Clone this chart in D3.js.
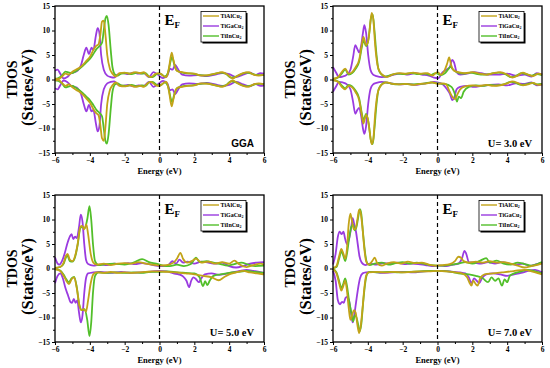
<!DOCTYPE html>
<html>
<head>
<meta charset="utf-8">
<script src="https://cdn.jsdelivr.net/npm/d3@7"></script>
<style>
  body { margin: 0; background: #fff; }
  svg { display: block; }
</style>
</head>
<body>
<div id="chart"></div>
<script>
// compounds and colours
const compounds = ["TiAlCu", "TiGaCu", "TiInCu"];
const colors = ["#c2a318", "#9a3be0", "#52bf2a"];
const panelLabels = ["GGA", "U= 3.0 eV", "U= 5.0 eV", "U= 7.0 eV"];
const xTicks = [-6, -4, -2, 0, 2, 4, 6];
const yTicks = [-15, -10, -5, 0, 5, 10, 15];

// ---- GGA ----
const ggaAlUp = [[-6,0.2],[-5.8,0.1],[-5.6,0.6],[-5.4,1.2],[-5.2,1.0],[-5.0,1.6],[-4.8,2.0],[-4.6,2.4],[-4.4,3.0],[-4.2,3.8],[-4.0,4.6],[-3.8,6.0],[-3.65,6.8],[-3.5,7.2],[-3.4,9],[-3.3,11.8],[-3.2,12.0],[-3.1,9],[-3.0,5],[-2.85,2.2],[-2.7,1.2],[-2.5,0.6],[-2.3,1.3],[-2.0,1.4],[-1.7,1.2],[-1.4,1.5],[-1.1,1.3],[-0.9,1.5],[-0.7,0.8],[-0.5,0.5],[-0.2,1.2],[0,1.3],[0.2,0.8],[0.4,0.5],[0.55,2.5],[0.7,5.5],[0.8,4.0],[0.95,2.0],[1.1,1.6],[1.3,1.5],[1.6,1.3],[2.0,1.2],[2.4,0.8],[2.8,0.9],[3.2,1.2],[3.6,1.5],[3.9,1.0],[4.2,0.2],[4.5,0.8],[4.8,1.3],[5.1,1.5],[5.4,1.0],[5.7,0.8],[6,1.0]];
const ggaGaUp = [[-6,1.8],[-5.85,2.0],[-5.7,1.2],[-5.5,0.2],[-5.3,0.5],[-5.1,1.2],[-4.9,1.5],[-4.7,1.8],[-4.5,3.0],[-4.35,5.0],[-4.2,6.5],[-4.05,5.2],[-3.9,6.5],[-3.8,6.0],[-3.65,9],[-3.55,10.5],[-3.45,9.5],[-3.35,5],[-3.2,2.0],[-3.0,0.8],[-2.8,0.5],[-2.6,0.4],[-2.4,1.0],[-2.1,1.3],[-1.8,1.1],[-1.5,1.4],[-1.2,1.2],[-0.9,1.3],[-0.6,0.5],[-0.35,1.5],[-0.1,1.0],[0.2,0.3],[0.45,0.8],[0.6,2.2],[0.75,2.0],[0.9,3.0],[1.05,2.2],[1.3,1.0],[1.7,0.8],[2.2,0.9],[2.7,0.7],[3.2,1.0],[3.6,1.3],[4.0,1.1],[4.4,0.5],[4.8,1.0],[5.2,1.4],[5.5,0.9],[5.8,1.3],[6,1.2]];
const ggaInUp = [[-6,0.1],[-5.8,0.3],[-5.6,0.8],[-5.4,1.6],[-5.2,1.4],[-5.0,1.3],[-4.8,1.7],[-4.6,2.2],[-4.4,2.8],[-4.2,3.5],[-4.0,4.2],[-3.8,5.2],[-3.6,6.3],[-3.45,6.8],[-3.3,7.5],[-3.2,10],[-3.1,12.5],[-3.02,13],[-2.92,11],[-2.8,6],[-2.7,2.5],[-2.55,1.0],[-2.4,0.8],[-2.2,1.2],[-1.9,1.3],[-1.6,1.1],[-1.3,1.4],[-1.0,1.2],[-0.8,1.3],[-0.6,0.6],[-0.4,0.5],[-0.1,1.2],[0.1,1.1],[0.3,0.6],[0.5,1.5],[0.62,3.5],[0.72,4.6],[0.85,3.0],[1.0,1.8],[1.2,1.5],[1.5,1.3],[1.9,1.2],[2.3,0.9],[2.7,0.8],[3.1,1.1],[3.5,1.4],[3.8,1.2],[4.1,0.4],[4.4,0.6],[4.7,1.1],[5.0,1.4],[5.3,1.2],[5.6,0.9],[6,0.9]];
const ggaAlDn = [[-6,-0.2],[-5.8,-0.1],[-5.6,-0.7],[-5.4,-1.3],[-5.2,-1.0],[-5.0,-1.6],[-4.8,-2.1],[-4.6,-2.5],[-4.4,-3.1],[-4.2,-3.9],[-4.0,-4.7],[-3.8,-6.0],[-3.65,-6.8],[-3.5,-7.3],[-3.4,-9.2],[-3.3,-12.0],[-3.2,-12.5],[-3.1,-9.5],[-3.0,-5],[-2.85,-2.2],[-2.7,-1.2],[-2.5,-0.6],[-2.3,-1.3],[-2.0,-1.4],[-1.7,-1.2],[-1.4,-1.5],[-1.1,-1.3],[-0.9,-1.5],[-0.7,-0.8],[-0.5,-0.5],[-0.2,-1.2],[0,-1.3],[0.2,-0.8],[0.4,-0.5],[0.55,-2.5],[0.7,-5.5],[0.8,-4.0],[0.95,-2.0],[1.1,-1.6],[1.3,-1.5],[1.6,-1.3],[2.0,-1.2],[2.4,-0.8],[2.8,-0.9],[3.2,-1.2],[3.6,-1.5],[3.9,-1.0],[4.2,-0.2],[4.5,-0.8],[4.8,-1.3],[5.1,-1.5],[5.4,-1.0],[5.7,-0.8],[6,-1.0]];
const ggaGaDn = [[-6,-1.8],[-5.85,-2.0],[-5.7,-1.2],[-5.5,-0.2],[-5.3,-0.5],[-5.1,-1.2],[-4.9,-1.5],[-4.7,-1.8],[-4.5,-3.0],[-4.35,-5.0],[-4.2,-6.5],[-4.05,-5.2],[-3.9,-6.5],[-3.8,-6.2],[-3.65,-9],[-3.55,-10.6],[-3.45,-9.5],[-3.35,-5],[-3.2,-2.0],[-3.0,-0.8],[-2.8,-0.5],[-2.6,-0.4],[-2.4,-1.0],[-2.1,-1.3],[-1.8,-1.1],[-1.5,-1.4],[-1.2,-1.2],[-0.9,-1.3],[-0.6,-0.5],[-0.35,-1.5],[-0.1,-1.0],[0.2,-0.3],[0.45,-0.8],[0.6,-2.2],[0.75,-2.0],[0.9,-3.0],[1.05,-2.2],[1.3,-1.0],[1.7,-0.8],[2.2,-0.9],[2.7,-0.7],[3.2,-1.0],[3.6,-1.3],[4.0,-1.1],[4.4,-0.5],[4.8,-1.0],[5.2,-1.4],[5.5,-0.9],[5.8,-1.3],[6,-1.2]];
const ggaInDn = [[-6,-0.1],[-5.8,-0.3],[-5.6,-0.8],[-5.4,-1.6],[-5.2,-1.4],[-5.0,-1.3],[-4.8,-1.7],[-4.6,-2.2],[-4.4,-2.8],[-4.2,-3.5],[-4.0,-4.2],[-3.8,-5.2],[-3.6,-6.3],[-3.45,-6.8],[-3.3,-7.5],[-3.2,-10],[-3.1,-12.6],[-3.02,-13.1],[-2.92,-11],[-2.8,-6],[-2.7,-2.5],[-2.55,-1.0],[-2.4,-0.8],[-2.2,-1.2],[-1.9,-1.3],[-1.6,-1.1],[-1.3,-1.4],[-1.0,-1.2],[-0.8,-1.3],[-0.6,-0.6],[-0.4,-0.5],[-0.1,-1.2],[0.1,-1.1],[0.3,-0.6],[0.5,-1.5],[0.62,-3.5],[0.72,-4.6],[0.85,-3.0],[1.0,-1.8],[1.2,-1.5],[1.5,-1.3],[1.9,-1.2],[2.3,-0.9],[2.7,-0.8],[3.1,-1.1],[3.5,-1.4],[3.8,-1.2],[4.1,-0.4],[4.4,-0.6],[4.7,-1.1],[5.0,-1.4],[5.3,-1.2],[5.6,-0.9],[6,-0.9]];

// ---- U = 3.0 eV ----
const u3AlUp = [[-6,0.1],[-5.7,0.5],[-5.5,1.5],[-5.3,2.2],[-5.1,1.2],[-4.9,1.5],[-4.7,2.5],[-4.5,4.0],[-4.35,7.0],[-4.25,8.7],[-4.1,7.0],[-4.0,7.5],[-3.9,10],[-3.78,13.6],[-3.68,12],[-3.58,7],[-3.45,3],[-3.3,1.5],[-3.1,0.8],[-2.9,0.5],[-2.6,1.0],[-2.2,1.3],[-1.8,1.2],[-1.4,1.4],[-1.0,1.2],[-0.6,1.3],[-0.3,0.8],[0,1.5],[0.2,1.0],[0.4,1.8],[0.55,3.2],[0.67,4.5],[0.78,3.0],[0.95,1.8],[1.2,1.5],[1.6,1.3],[2.0,1.5],[2.4,1.2],[2.8,1.0],[3.2,1.3],[3.6,1.5],[4.0,1.0],[4.3,0.4],[4.6,0.8],[4.9,1.4],[5.2,1.0],[5.5,0.7],[5.8,1.2],[6,1.0]];
const u3GaUp = [[-6,2.5],[-5.85,1.6],[-5.65,0.5],[-5.45,0.6],[-5.2,1.0],[-5.0,2.0],[-4.85,4.5],[-4.72,7.0],[-4.6,6.2],[-4.5,5.5],[-4.38,7.0],[-4.28,9.5],[-4.2,11.1],[-4.1,9.5],[-3.98,5],[-3.85,2],[-3.7,1.0],[-3.5,0.7],[-3.2,0.5],[-2.8,0.7],[-2.5,1.0],[-2.1,1.2],[-1.7,1.0],[-1.3,1.3],[-0.9,1.0],[-0.5,0.8],[-0.2,0.4],[0.05,0.3],[0.3,1.5],[0.5,2.0],[0.7,2.5],[0.85,4.0],[0.95,3.5],[1.1,1.5],[1.3,1.0],[1.7,1.2],[2.1,1.5],[2.5,1.3],[3.0,1.0],[3.5,1.0],[4.0,1.2],[4.5,0.8],[5.0,1.0],[5.4,0.6],[5.7,1.3],[6,1.0]];
const u3InUp = [[-6,0.1],[-5.7,0.4],[-5.5,1.2],[-5.3,2.0],[-5.1,1.0],[-4.9,1.3],[-4.7,2.2],[-4.5,3.6],[-4.35,6.5],[-4.25,8.0],[-4.1,6.8],[-3.95,8.5],[-3.82,12.5],[-3.72,13.3],[-3.62,10],[-3.5,5],[-3.38,2],[-3.2,1.0],[-3.0,0.6],[-2.7,0.9],[-2.3,1.2],[-1.9,1.1],[-1.5,1.3],[-1.1,1.1],[-0.7,1.2],[-0.4,0.9],[-0.1,1.3],[0.2,0.9],[0.4,1.2],[0.6,2.0],[0.75,2.6],[0.9,2.0],[1.1,1.5],[1.5,1.2],[1.9,1.4],[2.3,1.1],[2.7,1.0],[3.1,1.2],[3.5,1.4],[3.9,1.1],[4.2,0.5],[4.5,0.7],[4.8,1.3],[5.1,1.1],[5.4,0.8],[5.7,1.1],[6,0.9]];
const u3AlDn = [[-6,-0.1],[-5.7,-0.5],[-5.5,-1.5],[-5.3,-2.0],[-5.1,-1.3],[-4.9,-1.6],[-4.7,-2.6],[-4.5,-4.2],[-4.35,-7.2],[-4.25,-9.0],[-4.1,-7.2],[-4.0,-8.0],[-3.9,-10.5],[-3.78,-13.2],[-3.68,-12],[-3.58,-7],[-3.45,-3],[-3.3,-1.5],[-3.1,-0.8],[-2.9,-0.6],[-2.6,-0.9],[-2.2,-1.0],[-1.8,-0.9],[-1.4,-1.1],[-1.0,-0.9],[-0.6,-0.8],[-0.3,-0.6],[0,-0.9],[0.3,-0.8],[0.5,-1.0],[0.7,-2.5],[0.85,-3.5],[1.0,-4.0],[1.15,-3.0],[1.3,-2.0],[1.6,-1.4],[2.0,-1.2],[2.4,-1.3],[2.8,-1.1],[3.2,-1.3],[3.6,-1.2],[4.0,-0.8],[4.3,-0.4],[4.6,-0.7],[4.9,-1.2],[5.2,-1.0],[5.5,-0.7],[5.8,-1.1],[6,-1.0]];
const u3GaDn = [[-6,-2.5],[-5.85,-1.6],[-5.65,-0.5],[-5.45,-0.6],[-5.2,-1.0],[-5.0,-2.0],[-4.85,-4.5],[-4.72,-7.0],[-4.6,-6.2],[-4.5,-5.8],[-4.38,-7.5],[-4.28,-10],[-4.2,-11.1],[-4.1,-9.5],[-3.98,-5],[-3.85,-2],[-3.7,-1.0],[-3.5,-0.7],[-3.2,-0.5],[-2.8,-0.7],[-2.5,-0.9],[-2.1,-1.0],[-1.7,-0.9],[-1.3,-1.1],[-0.9,-0.9],[-0.5,-0.7],[-0.2,-0.5],[0,-0.6],[0.3,-1.0],[0.55,-2.0],[0.72,-3.0],[0.85,-4.2],[0.95,-3.8],[1.1,-2.0],[1.3,-1.5],[1.7,-1.3],[2.1,-1.5],[2.5,-1.3],[3.0,-1.1],[3.5,-1.0],[4.0,-1.2],[4.5,-0.8],[5.0,-0.9],[5.4,-0.6],[5.7,-1.2],[6,-1.0]];
const u3InDn = [[-6,-0.1],[-5.7,-0.4],[-5.5,-1.2],[-5.3,-1.8],[-5.1,-1.1],[-4.9,-1.4],[-4.7,-2.3],[-4.5,-3.8],[-4.35,-6.8],[-4.25,-8.3],[-4.1,-7.0],[-3.95,-9.0],[-3.82,-12.5],[-3.72,-13.2],[-3.62,-10],[-3.5,-5],[-3.38,-2],[-3.2,-1.0],[-3.0,-0.6],[-2.7,-0.8],[-2.3,-1.0],[-1.9,-0.9],[-1.5,-1.0],[-1.1,-0.9],[-0.7,-0.8],[-0.4,-0.6],[0,-0.8],[0.4,-0.9],[0.8,-1.5],[1.0,-3.0],[1.12,-4.5],[1.22,-3.5],[1.35,-3.8],[1.5,-2.5],[1.8,-1.5],[2.2,-1.2],[2.6,-1.3],[3.0,-1.1],[3.4,-1.2],[3.8,-1.0],[4.2,-0.5],[4.5,-0.7],[4.8,-1.1],[5.1,-1.0],[5.4,-0.7],[5.7,-1.0],[6,-0.9]];

// ---- U = 5.0 eV ----
const u5AlUp = [[-6,0.1],[-5.7,0.3],[-5.5,1.2],[-5.38,2.5],[-5.28,3.0],[-5.15,1.8],[-5.0,1.5],[-4.85,2.5],[-4.7,5.0],[-4.55,8.5],[-4.45,8.7],[-4.32,8.0],[-4.2,9.0],[-4.1,7],[-3.95,3],[-3.8,1.2],[-3.6,0.8],[-3.2,1.0],[-2.8,0.7],[-2.4,1.0],[-2.0,1.1],[-1.6,1.0],[-1.2,1.3],[-0.8,1.0],[-0.4,0.8],[0,0.6],[0.4,0.7],[0.8,1.2],[1.0,2.0],[1.2,3.2],[1.35,2.0],[1.6,1.2],[1.9,1.6],[2.1,2.0],[2.4,1.2],[2.8,1.4],[3.2,1.0],[3.6,1.3],[4.0,1.0],[4.3,1.6],[4.6,0.8],[5.0,0.3],[5.4,0.7],[5.8,1.0],[6,0.8]];
const u5GaUp = [[-6,2.3],[-5.85,1.0],[-5.75,0.8],[-5.6,1.5],[-5.45,3.0],[-5.3,5.0],[-5.15,6.5],[-5.05,7.0],[-4.95,6.0],[-4.85,6.5],[-4.75,6.2],[-4.62,8.5],[-4.52,11.0],[-4.42,9.5],[-4.32,5],[-4.22,1.8],[-4.1,0.9],[-3.8,0.6],[-3.4,0.8],[-3.0,0.7],[-2.6,1.0],[-2.2,0.9],[-1.8,1.1],[-1.4,0.9],[-1.0,1.1],[-0.6,0.9],[-0.2,0.6],[0.2,0.5],[0.5,0.7],[0.75,1.5],[0.95,1.0],[1.15,1.8],[1.35,1.2],[1.6,1.4],[2.0,1.0],[2.4,1.4],[2.8,1.2],[3.2,1.0],[3.6,1.2],[4.0,0.5],[4.4,0.2],[4.8,0.5],[5.2,1.0],[5.6,1.2],[6,1.3]];
const u5InUp = [[-6,0.1],[-5.7,0.3],[-5.5,1.0],[-5.38,2.2],[-5.28,2.6],[-5.15,1.5],[-5.0,1.4],[-4.85,2.3],[-4.7,4.8],[-4.55,8.2],[-4.45,8.5],[-4.3,8.2],[-4.15,10],[-4.02,12.7],[-3.92,10],[-3.82,5],[-3.7,1.5],[-3.5,0.7],[-3.1,0.9],[-2.6,1.0],[-2.0,0.8],[-1.5,1.2],[-1.0,1.9],[-0.6,1.3],[-0.2,1.0],[0.2,0.6],[0.6,0.5],[1.0,0.8],[1.4,0.5],[1.8,0.9],[2.1,2.2],[2.3,1.3],[2.7,1.5],[3.1,1.2],[3.5,0.9],[3.9,0.6],[4.3,0.9],[4.7,1.2],[5.1,0.8],[5.5,0.5],[6,0.6]];
const u5AlDn = [[-6,-0.1],[-5.7,-0.5],[-5.5,-1.5],[-5.35,-2.5],[-5.2,-3.2],[-5.05,-2.2],[-4.9,-1.8],[-4.75,-4],[-4.6,-7.5],[-4.48,-8.5],[-4.35,-8.3],[-4.22,-8.8],[-4.1,-6.5],[-3.95,-3],[-3.8,-1.2],[-3.6,-0.8],[-3.2,-0.9],[-2.8,-0.7],[-2.4,-0.9],[-2.0,-0.8],[-1.6,-0.9],[-1.2,-0.8],[-0.8,-0.7],[-0.4,-0.6],[0,-0.6],[0.5,-0.7],[1.0,-0.8],[1.5,-1.0],[2.0,-1.2],[2.5,-1.5],[3.0,-1.8],[3.4,-2.4],[3.7,-1.8],[4.0,-1.2],[4.4,-0.8],[4.8,-0.5],[5.2,-0.8],[5.6,-1.0],[6,-1.2]];
const u5GaDn = [[-6,-3.0],[-5.85,-1.5],[-5.7,-1.0],[-5.55,-2.0],[-5.4,-4.0],[-5.25,-5.5],[-5.12,-6.8],[-5.02,-7.0],[-4.92,-6.2],[-4.82,-7.0],[-4.72,-6.5],[-4.62,-9.0],[-4.52,-11.0],[-4.42,-9.5],[-4.32,-5],[-4.22,-2],[-4.1,-1.0],[-3.8,-0.8],[-3.4,-0.7],[-2.8,-0.9],[-2.2,-0.7],[-1.6,-0.9],[-1.0,-0.8],[-0.4,-0.6],[0,-0.5],[0.4,-0.6],[0.8,-1.0],[1.1,-1.2],[1.35,-1.6],[1.55,-2.5],[1.7,-3.8],[1.82,-2.5],[1.95,-1.8],[2.1,-2.2],[2.25,-2.8],[2.4,-2.0],[2.6,-1.2],[3.0,-1.0],[3.4,-1.3],[3.8,-1.1],[4.2,-0.8],[4.6,-0.5],[5.0,-0.3],[5.4,-0.5],[6,-0.9]];
const u5InDn = [[-6,-0.1],[-5.7,-0.4],[-5.5,-1.3],[-5.35,-2.2],[-5.2,-2.8],[-5.05,-2.0],[-4.9,-1.7],[-4.75,-3.8],[-4.6,-7.5],[-4.45,-8.5],[-4.3,-8.3],[-4.15,-10.5],[-4.02,-13.8],[-3.92,-11],[-3.82,-5],[-3.7,-1.5],[-3.5,-0.8],[-3.1,-0.9],[-2.6,-0.8],[-2.0,-0.9],[-1.5,-0.8],[-1.0,-0.9],[-0.5,-0.7],[0,-0.7],[0.5,-0.6],[1.0,-0.8],[1.5,-0.9],[2.0,-1.0],[2.3,-1.8],[2.5,-3.6],[2.62,-2.6],[2.75,-3.4],[2.88,-2.5],[3.1,-1.5],[3.5,-1.2],[4.0,-0.9],[4.5,-0.7],[5.0,-0.5],[5.5,-0.7],[6,-0.9]];

// ---- U = 7.0 eV ----
const u7AlUp = [[-6,0.1],[-5.8,0.5],[-5.65,2.5],[-5.52,4.0],[-5.4,3.0],[-5.3,2.0],[-5.2,4.0],[-5.1,9.0],[-5.0,11.2],[-4.9,9.5],[-4.8,8.0],[-4.7,8.2],[-4.6,10],[-4.5,12.0],[-4.42,11.5],[-4.3,8],[-4.2,4],[-4.1,1.5],[-3.95,0.8],[-3.75,1.5],[-3.6,2.2],[-3.45,1.0],[-3.2,0.6],[-2.9,1.0],[-2.5,1.3],[-2.1,1.0],[-1.7,1.4],[-1.3,1.1],[-0.9,1.2],[-0.5,0.8],[-0.1,0.6],[0.3,0.7],[0.7,0.9],[1.0,1.5],[1.2,2.4],[1.35,2.2],[1.5,1.5],[1.8,1.2],[2.2,1.4],[2.6,1.2],[3.0,1.5],[3.4,1.2],[3.8,1.3],[4.2,1.0],[4.6,0.6],[5.0,0.2],[5.4,0.5],[5.8,0.8],[6,1.0]];
const u7GaUp = [[-6,0.8],[-5.85,3.0],[-5.72,6.5],[-5.62,7.5],[-5.5,7.0],[-5.4,7.5],[-5.3,6.0],[-5.2,5.0],[-5.08,6.0],[-4.95,8.5],[-4.87,10.3],[-4.78,9.0],[-4.68,7.5],[-4.58,5],[-4.48,2.5],[-4.35,1.2],[-4.15,0.7],[-3.9,1.0],[-3.5,0.8],[-3.1,1.1],[-2.7,1.0],[-2.3,1.2],[-1.9,0.9],[-1.5,1.0],[-1.1,0.9],[-0.7,0.7],[-0.3,0.5],[0.1,0.6],[0.5,0.5],[0.9,0.8],[1.2,1.0],[1.4,2.0],[1.55,3.6],[1.65,3.0],[1.8,1.3],[2.1,1.2],[2.5,1.0],[2.9,1.3],[3.3,1.0],[3.7,1.3],[4.1,1.0],[4.5,0.8],[4.9,1.0],[5.3,0.5],[5.7,0.9],[6,1.2]];
const u7InUp = [[-6,0.1],[-5.8,0.3],[-5.65,2.0],[-5.52,3.5],[-5.4,2.5],[-5.3,1.5],[-5.2,3.0],[-5.08,6.0],[-4.95,8.5],[-4.85,9.0],[-4.75,7.8],[-4.65,8.5],[-4.55,10.5],[-4.45,12.1],[-4.37,11],[-4.27,7],[-4.15,3],[-4.05,1.2],[-3.9,0.7],[-3.6,1.0],[-3.2,1.2],[-2.8,0.8],[-2.4,1.1],[-2.0,1.3],[-1.6,1.0],[-1.2,1.2],[-0.8,1.0],[-0.4,0.7],[0,0.6],[0.4,0.6],[0.8,0.8],[1.2,1.0],[1.6,1.3],[2.0,1.0],[2.4,1.5],[2.8,2.1],[3.0,1.2],[3.4,1.6],[3.8,1.0],[4.2,0.8],[4.6,1.2],[5.0,0.9],[5.4,0.6],[5.8,1.0],[6,1.3]];
const u7AlDn = [[-6,-0.1],[-5.8,-1.0],[-5.65,-3.0],[-5.52,-4.5],[-5.4,-3.5],[-5.3,-2.5],[-5.2,-4.5],[-5.1,-8],[-5.0,-10.5],[-4.9,-9.5],[-4.8,-8.5],[-4.7,-9],[-4.6,-11.5],[-4.5,-13.2],[-4.42,-12],[-4.3,-8],[-4.2,-4],[-4.1,-1.5],[-3.95,-0.8],[-3.5,-0.7],[-3.0,-0.8],[-2.5,-0.7],[-2.0,-0.8],[-1.5,-0.7],[-1.0,-0.6],[-0.5,-0.6],[0,-0.5],[0.5,-0.6],[1.0,-0.8],[1.4,-1.0],[1.7,-1.8],[1.85,-3.0],[1.95,-3.5],[2.05,-2.5],[2.2,-3.2],[2.3,-3.5],[2.45,-2.0],[2.7,-1.2],[3.2,-1.0],[3.7,-0.8],[4.2,-0.6],[4.6,-0.4],[5.0,-0.3],[5.4,-0.6],[5.8,-1.0],[6,-1.2]];
const u7GaDn = [[-6,-0.5],[-5.85,-2.5],[-5.72,-6.5],[-5.6,-7.3],[-5.48,-6.8],[-5.38,-7.0],[-5.28,-6.0],[-5.18,-5.8],[-5.05,-7],[-4.95,-9.5],[-4.87,-11],[-4.78,-9.5],[-4.68,-7.0],[-4.58,-4.5],[-4.45,-2],[-4.3,-1.0],[-4.1,-0.8],[-3.7,-0.7],[-3.2,-0.9],[-2.6,-0.8],[-2.0,-0.7],[-1.4,-0.8],[-0.8,-0.6],[-0.2,-0.5],[0.4,-0.5],[0.9,-0.7],[1.3,-0.8],[1.6,-1.0],[1.8,-1.8],[1.95,-3.0],[2.1,-2.0],[2.25,-2.5],[2.4,-3.0],[2.55,-2.0],[2.8,-1.2],[3.2,-1.0],[3.6,-1.2],[4.0,-1.5],[4.4,-1.2],[4.8,-0.9],[5.2,-0.5],[5.6,-0.3],[6,-0.8]];
const u7InDn = [[-6,-0.1],[-5.8,-0.8],[-5.65,-2.5],[-5.52,-4.0],[-5.4,-3.0],[-5.3,-2.0],[-5.2,-3.5],[-5.08,-6.5],[-4.95,-9],[-4.85,-10.8],[-4.75,-9.5],[-4.65,-10],[-4.55,-11.5],[-4.47,-12.8],[-4.38,-11.5],[-4.27,-7],[-4.15,-3],[-4.05,-1.2],[-3.9,-0.7],[-3.4,-0.8],[-2.8,-0.7],[-2.2,-0.8],[-1.6,-0.7],[-1.0,-0.6],[-0.4,-0.5],[0,-0.5],[0.6,-0.6],[1.2,-1.0],[1.8,-1.2],[2.2,-1.5],[2.6,-2.0],[2.9,-2.8],[3.1,-1.8],[3.3,-2.5],[3.5,-2.0],[3.7,-3.5],[3.85,-2.2],[4.0,-2.8],[4.15,-1.5],[4.4,-1.0],[4.8,-0.6],[5.2,-0.3],[5.6,-0.6],[6,-1.0]];

const panels = [
  { x: 55,  y: 6,   label: panelLabels[0], sans: true,  series: [[ggaAlUp, ggaAlDn], [ggaGaUp, ggaGaDn], [ggaInUp, ggaInDn]] },
  { x: 333, y: 6,   label: panelLabels[1], sans: false, series: [[u3AlUp, u3AlDn], [u3GaUp, u3GaDn], [u3InUp, u3InDn]] },
  { x: 55,  y: 195, label: panelLabels[2], sans: false, series: [[u5AlUp, u5AlDn], [u5GaUp, u5GaDn], [u5InUp, u5InDn]] },
  { x: 333, y: 195, label: panelLabels[3], sans: false, series: [[u7AlUp, u7AlDn], [u7GaUp, u7GaDn], [u7InUp, u7InDn]] }
];

const W = 550, H = 368, pw = 209, ph = 147;
const serif = "'Liberation Serif', 'Times New Roman', serif";
const svg = d3.select("#chart").append("svg").attr("width", W).attr("height", H);

const x = d3.scaleLinear().domain([-6, 6]).range([0, pw]);
const y = d3.scaleLinear().domain([-15, 15]).range([ph, 0]);
const line = d3.line().x(d => x(d[0])).y(d => y(d[1])).curve(d3.curveMonotoneX);

panels.forEach(p => {
  const g = svg.append("g").attr("transform", `translate(${p.x},${p.y})`);

  // curves: purple first, then green, then gold on top
  [1, 2, 0].forEach(i => {
    p.series[i].forEach(arr => {
      g.append("path").datum(arr).attr("d", line)
        .attr("fill", "none").attr("stroke", colors[i]).attr("stroke-width", 1.8)
        .attr("stroke-linejoin", "round");
    });
  });

  // Fermi level
  g.append("line").attr("x1", x(0)).attr("x2", x(0)).attr("y1", 0).attr("y2", ph)
    .attr("stroke", "#000").attr("stroke-width", 1.2).attr("stroke-dasharray", "4,3");

  // axes
  g.append("g").attr("transform", `translate(0,${ph})`)
    .call(d3.axisBottom(x).tickValues(xTicks).tickSize(3).tickPadding(2));
  g.append("g").attr("transform", `translate(0,${ph})`)
    .call(d3.axisBottom(x).tickValues([-5, -3, -1, 1, 3, 5]).tickSize(2).tickFormat(""));
  g.append("g").call(d3.axisLeft(y).tickValues(yTicks).tickSize(3).tickPadding(2));
  g.append("g").call(d3.axisLeft(y).tickValues([-12.5, -7.5, -2.5, 2.5, 7.5, 12.5]).tickSize(2).tickFormat(""));
  g.selectAll(".domain").remove();
  g.selectAll(".tick line").attr("stroke", "#000").attr("stroke-width", 1);
  g.selectAll(".tick text").attr("font-family", serif).attr("font-weight", "bold")
    .attr("font-size", 7.5).attr("fill", "#000");

  g.append("rect").attr("width", pw).attr("height", ph)
    .attr("fill", "none").attr("stroke", "#000").attr("stroke-width", 1.3);

  // axis titles
  g.append("text").attr("x", pw / 2).attr("y", ph + 21).attr("text-anchor", "middle")
    .attr("font-family", serif).attr("font-weight", "bold").attr("font-size", 8.5).text("Energy (eV)");
  g.append("text").attr("transform", `translate(-38,${ph / 2}) rotate(-90)`).attr("text-anchor", "middle")
    .attr("font-family", serif).attr("font-weight", "bold").attr("font-size", 14).text("TDOS");
  g.append("text").attr("transform", `translate(-22,${ph / 2 + 8}) rotate(-90)`).attr("text-anchor", "middle")
    .attr("font-family", serif).attr("font-weight", "bold").attr("font-size", 16.5).text("(States/eV)");

  // E_F
  const ef = g.append("text").attr("x", x(0) + 5).attr("y", 19)
    .attr("font-family", serif).attr("font-weight", "bold").attr("font-size", 15);
  ef.append("tspan").text("E");
  ef.append("tspan").attr("font-size", 9).attr("dy", 3).text("F");

  // panel label
  g.append("text").attr("x", pw - 10).attr("y", ph - 6).attr("text-anchor", "end")
    .attr("font-family", p.sans ? "'Liberation Sans', Arial, sans-serif" : serif)
    .attr("font-weight", "bold").attr("font-size", p.sans ? 10 : 10.5).text(p.label);

  // legend
  const lg = g.append("g").attr("transform", `translate(${pw - 63},5.5)`);
  lg.append("rect").attr("x", 1.5).attr("y", 1.5).attr("width", 45).attr("height", 30.5).attr("fill", "#000");
  lg.append("rect").attr("width", 45).attr("height", 30.5).attr("fill", "#fff").attr("stroke", "#000").attr("stroke-width", 0.8);
  compounds.forEach((c, i) => {
    const ly = 4.5 + i * 10;
    lg.append("line").attr("x1", 2).attr("x2", 18).attr("y1", ly).attr("y2", ly)
      .attr("stroke", colors[i]).attr("stroke-width", 1.4);
    const t = lg.append("text").attr("x", 19.5).attr("y", ly + 2)
      .attr("font-family", serif).attr("font-weight", "bold").attr("font-size", 6);
    t.append("tspan").text(c);
    t.append("tspan").attr("font-size", 4).attr("dy", 1.2).text("2");
  });
});
</script>
</body>
</html>
